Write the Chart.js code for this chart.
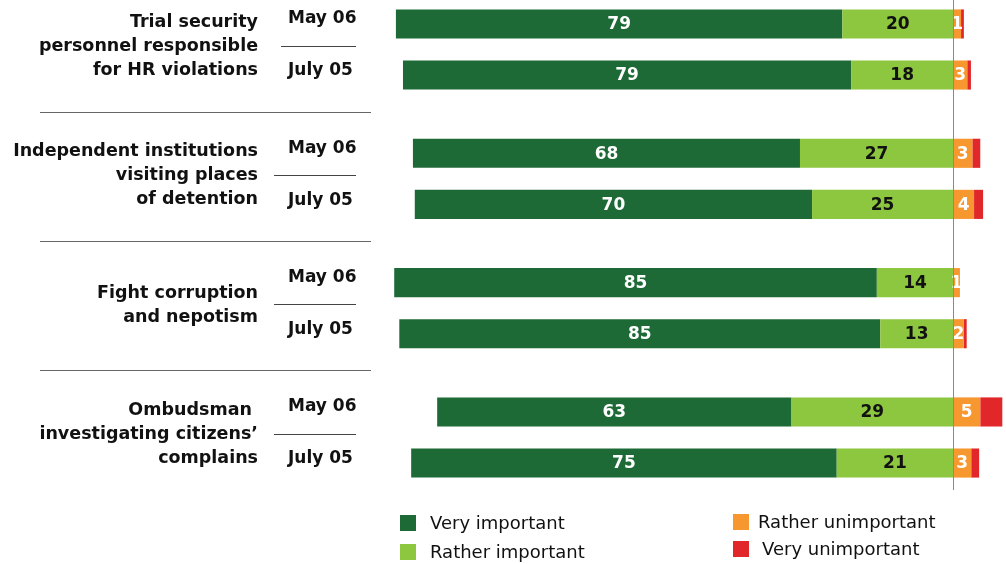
<!DOCTYPE html>
<html>
<head>
<meta charset="utf-8">
<script src="https://cdn.jsdelivr.net/npm/chart.js@4.4.1/dist/chart.umd.min.js"></script>
<style>
  body { margin: 0; background: #fff; }
  #wrap { position: relative; width: 1006px; height: 564px; }
  .leg { position: absolute; font: 18px 'DejaVu Sans', sans-serif; color: #111; line-height: 20px; }
  .leg span { display: inline-block; width: 16px; height: 16px; position: absolute; left: 0; top: 2px; }
  .leg b { font-weight: normal; }
</style>
</head>
<body>
<div id="wrap">
  <canvas id="chart" width="1006" height="564"></canvas>
  <div class="leg" style="left:400px; top:513px;"><span style="background:#1e6a37"></span><b style="margin-left:30px">Very important</b></div>
  <div class="leg" style="left:400px; top:542px;"><span style="background:#8dc63f"></span><b style="margin-left:30px">Rather important</b></div>
  <div class="leg" style="left:733px; top:512px;"><span style="background:#f7972f"></span><b style="margin-left:25px">Rather unimportant</b></div>
  <div class="leg" style="left:733px; top:539px;"><span style="background:#e2272a"></span><b style="margin-left:29px">Very unimportant</b></div>
</div>
<script>
// groups (top to bottom) and the two survey waves
const groups = [
    ['Trial security', 'personnel responsible', 'for HR violations'],
    ['Independent institutions', 'visiting places', 'of detention'],
    ['Fight corruption', 'and nepotism'],
    ['Ombudsman ', 'investigating citizens’', 'complains']
];
const periods = ['May 06', 'July 05'];

// May 06
const veryImpMay = [79.0, 68.49, 85.4, 62.7];
const ratherImpMay = [19.6, 27.1, 13.5, 28.6];
const ratherUnimpMay = [1.4, 3.4, 1.2, 4.8];
const veryUnimpMay = [0.5, 1.4, 0, 3.9];

// July 05
const veryImpJul = [79.3, 70.3, 85.1, 75.3];
const ratherImpJul = [18.05, 24.96, 12.9, 20.6];
const ratherUnimpJul = [2.5, 3.7, 1.9, 3.2];
const veryUnimpJul = [0.65, 1.6, 0.5, 1.4];

const COLORS = {
    veryImp: '#1e6a37',
    ratherImp: '#8dc63f',
    ratherUnimp: '#f7972f',
    veryUnimp: '#e2272a'
};
const FONT = "'DejaVu Sans', sans-serif";

function neg(arr) {
    return arr.map(v => -v);
}

function makeSet(label, data, color, stack, textColor) {
    return {
        label: label,
        data: data,
        backgroundColor: color,
        stack: stack,
        textColor: textColor,
        clip: false,
        borderWidth: 0,
        categoryPercentage: 0.79,
        barPercentage: 0.57
    };
}

// important values go left of zero, unimportant to the right
const datasets = [
    makeSet('Rather important', neg(ratherImpMay), COLORS.ratherImp, 'may', '#111'),
    makeSet('Very important', neg(veryImpMay), COLORS.veryImp, 'may', '#fff'),
    makeSet('Rather unimportant', ratherUnimpMay, COLORS.ratherUnimp, 'may', '#fff'),
    makeSet('Very unimportant', veryUnimpMay, COLORS.veryUnimp, 'may', null),
    makeSet('Rather important', neg(ratherImpJul), COLORS.ratherImp, 'jul', '#111'),
    makeSet('Very important', neg(veryImpJul), COLORS.veryImp, 'jul', '#fff'),
    makeSet('Rather unimportant', ratherUnimpJul, COLORS.ratherUnimp, 'jul', '#fff'),
    makeSet('Very unimportant', veryUnimpJul, COLORS.veryUnimp, 'jul', null)
];

const decorations = {
    id: 'decorations',
    afterDatasetsDraw(chart) {
        const ctx = chart.ctx;
        const x = chart.scales.x;
        const y = chart.scales.y;

        // value labels inside segments
        ctx.save();
        ctx.font = 'bold 17px ' + FONT;
        ctx.textAlign = 'center';
        ctx.textBaseline = 'middle';
        chart.data.datasets.forEach((ds, di) => {
            if (!ds.textColor) return;
            chart.getDatasetMeta(di).data.forEach((el, i) => {
                const v = Math.abs(ds.data[i]);
                if (!v) return;
                const p = el.getProps(['x', 'y', 'base'], true);
                ctx.fillStyle = ds.textColor;
                ctx.fillText(String(Math.round(v)), (p.x + p.base) / 2, p.y + 1);
            });
        });

        // zero line
        const zx = Math.round(x.getPixelForValue(0)) + 0.5;
        ctx.strokeStyle = '#8a8a8a';
        ctx.lineWidth = 1;
        ctx.beginPath();
        ctx.moveTo(zx, 0);
        ctx.lineTo(zx, 490);
        ctx.stroke();

        // group and period labels on the left
        groups.forEach((lines, gi) => {
            const cy = y.getPixelForValue(gi);
            ctx.fillStyle = '#111';
            ctx.font = 'bold 17.5px ' + FONT;
            ctx.textAlign = 'right';
            lines.forEach((line, li) => {
                ctx.fillText(line, 258, cy - 3 + (li - (lines.length - 1) / 2) * 24);
            });
            ctx.font = 'bold 17px ' + FONT;
            ctx.textAlign = 'left';
            ctx.fillText(periods[0], 288, cy - 25.5 - 5);
            ctx.fillText(periods[1], 288, cy + 25.5 - 4);

            ctx.strokeStyle = '#444';
            ctx.beginPath();
            const ly = Math.round(cy - 4) + 0.5;
            ctx.moveTo(gi === 0 ? 281 : 274, ly);
            ctx.lineTo(356, ly);
            ctx.stroke();

            if (gi < groups.length - 1) {
                ctx.strokeStyle = '#666';
                const sy = Math.round(cy + 62) + 0.5;
                ctx.beginPath();
                ctx.moveTo(40, sy);
                ctx.lineTo(371, sy);
                ctx.stroke();
            }
        });
        ctx.restore();
    }
};

new Chart(document.getElementById('chart'), {
    type: 'bar',
    data: {
        labels: groups.map(g => g.join(' ')),
        datasets: datasets
    },
    options: {
        indexAxis: 'y',
        responsive: false,
        animation: false,
        layout: {
            padding: { left: 388, right: 2, top: 49.5, bottom: 126.5 }
        },
        plugins: {
            legend: { display: false },
            tooltip: { enabled: false }
        },
        scales: {
            x: {
                display: false,
                stacked: true,
                min: -100,
                max: 9
            },
            y: {
                display: false,
                stacked: true,
                offset: false
            }
        }
    },
    plugins: [decorations]
});
</script>
</body>
</html>
